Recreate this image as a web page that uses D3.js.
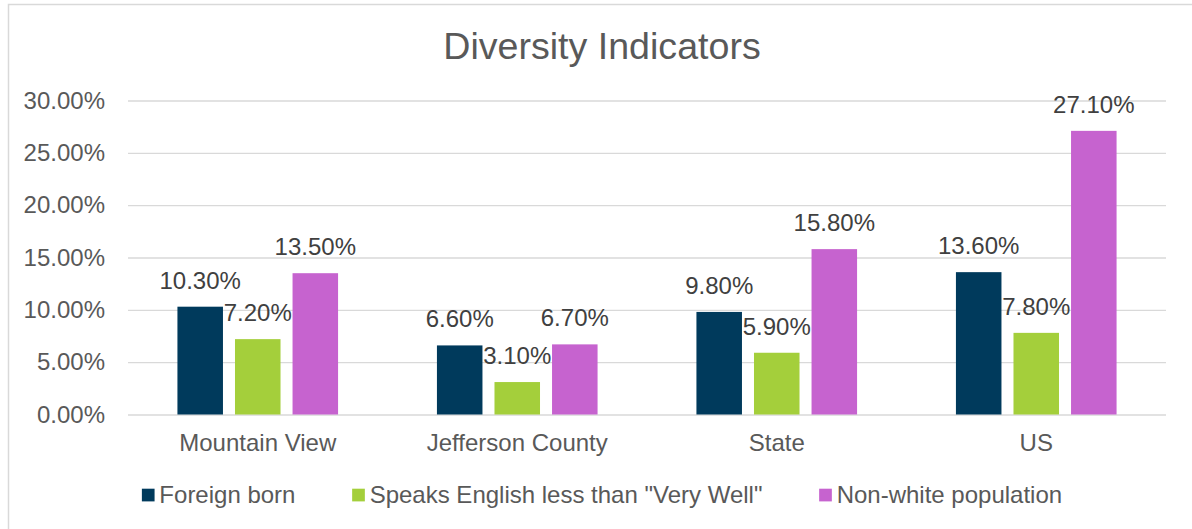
<!DOCTYPE html>
<html>
<head>
<meta charset="utf-8">
<script src="https://cdn.jsdelivr.net/npm/d3@7"></script>
<style>
  html, body { margin: 0; padding: 0; background: #fff; }
  svg { display: block; font-family: Arial, "Liberation Sans", sans-serif; }
</style>
</head>
<body>
<div id="chart"></div>
<script>
// Diversity Indicators - grouped bar chart

var categories = ['Mountain View', 'Jefferson County', 'State', 'US'];
var seriesNames = ['Foreign born', 'Speaks English less than "Very Well"', 'Non-white population'];
var seriesColors = ['#003a5c', '#a4cf3b', '#c663cf'];

var foreignBorn = [0.103, 0.066, 0.098, 0.136];
var speaksEnglish = [0.072, 0.031, 0.059, 0.078];
var nonWhite = [0.135, 0.067, 0.158, 0.271];

var yTicks = [0, 0.05, 0.10, 0.15, 0.20, 0.25, 0.30];

var seriesValues = [foreignBorn, speaksEnglish, nonWhite];

var width = 1192, height = 529;
var plot = { left: 128, right: 1166, top: 100.5, bottom: 414.5 };
var chartCenter = 602;
var fontSize = '24px';

var svg = d3.select('#chart')
    .append('svg')
    .attr('width', width)
    .attr('height', height);

// chart area border (runs off the right and bottom of the picture)
svg.append('rect')
    .attr('x', 8.5)
    .attr('y', 4.5)
    .attr('width', 1200)
    .attr('height', 600)
    .attr('fill', '#fff')
    .attr('stroke', '#d9d9d9')
    .attr('stroke-width', 1.5);

// title
svg.append('text')
    .attr('x', chartCenter)
    .attr('y', 59)
    .attr('text-anchor', 'middle')
    .style('font-size', '37.6px')
    .style('fill', '#595959')
    .text('Diversity Indicators');

var y = d3.scaleLinear()
    .domain([0, 0.30])
    .range([plot.bottom, plot.top]);

var x0 = d3.scaleBand()
    .domain(categories)
    .range([plot.left, plot.right])
    .paddingInner(0.381)
    .paddingOuter(0.1905);

var x1 = d3.scaleBand()
    .domain(d3.range(seriesNames.length))
    .range([0, x0.bandwidth()])
    .paddingInner(0.209);

// gridlines + y labels
var yAxis = svg.append('g')
    .attr('transform', 'translate(' + plot.left + ',0)')
    .call(d3.axisLeft(y)
        .tickValues(yTicks)
        .tickSize(-(plot.right - plot.left))
        .tickPadding(23)
        .tickFormat(d3.format('.2%')));

yAxis.select('.domain').remove();
yAxis.selectAll('.tick line')
    .attr('stroke', '#d9d9d9')
    .attr('stroke-width', 1.3);
yAxis.selectAll('.tick text')
    .style('font-size', fontSize)
    .style('fill', '#595959')
    .attr('font-family', null);

// category labels
svg.append('g').selectAll('text')
    .data(categories)
    .enter()
    .append('text')
    .attr('x', function(d) { return x0(d) + x0.bandwidth() / 2; })
    .attr('y', plot.bottom + 36.5)
    .attr('text-anchor', 'middle')
    .style('font-size', fontSize)
    .style('fill', '#595959')
    .text(function(d) { return d; });

// bars
var groups = svg.append('g').selectAll('g')
    .data(categories)
    .enter()
    .append('g')
    .attr('transform', function(d) { return 'translate(' + x0(d) + ',0)'; });

groups.selectAll('rect')
    .data(function(d, i) {
        return seriesValues.map(function(vals, s) { return { s: s, v: vals[i] }; });
    })
    .enter()
    .append('rect')
    .attr('x', function(d) { return x1(d.s); })
    .attr('y', function(d) { return y(d.v); })
    .attr('width', x1.bandwidth())
    .attr('height', function(d) { return y(0) - y(d.v); })
    .attr('fill', function(d) { return seriesColors[d.s]; });

// data labels
groups.selectAll('text')
    .data(function(d, i) {
        return seriesValues.map(function(vals, s) { return { s: s, v: vals[i] }; });
    })
    .enter()
    .append('text')
    .attr('x', function(d) { return x1(d.s) + x1.bandwidth() / 2; })
    .attr('y', function(d) { return y(d.v) - 18; })
    .attr('text-anchor', 'middle')
    .style('font-size', fontSize)
    .style('fill', '#404040')
    .text(function(d) { return d3.format('.2%')(d.v); });

// legend, centred in the chart area
var legend = svg.append('g');
var items = legend.selectAll('g')
    .data(seriesNames)
    .enter()
    .append('g');

items.append('rect')
    .attr('width', 12.7)
    .attr('height', 12.7)
    .attr('y', 488.7)
    .attr('fill', function(d, i) { return seriesColors[i]; });

items.append('text')
    .attr('x', 17.5)
    .attr('y', 503)
    .style('font-size', fontSize)
    .style('fill', '#595959')
    .text(function(d) { return d; });

var gap = 56.7;
var offsets = [];
var total = 0;
items.each(function() {
    var w = 17.5 + this.querySelector('text').getComputedTextLength();
    offsets.push(total);
    total += w + gap;
});
total -= gap;
var startX = chartCenter - total / 2;
items.attr('transform', function(d, i) { return 'translate(' + (startX + offsets[i]) + ',0)'; });
</script>
</body>
</html>
